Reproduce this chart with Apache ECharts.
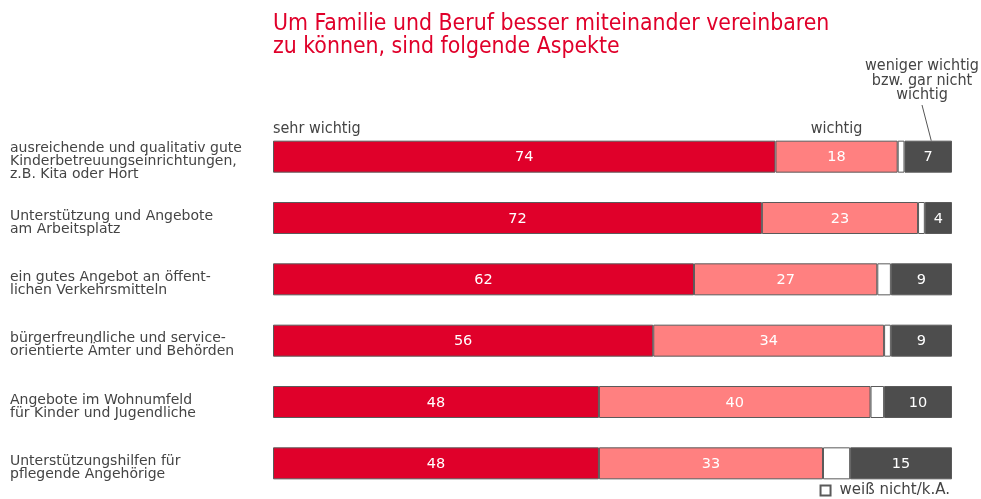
<!DOCTYPE html>
<html>
<head>
<meta charset="utf-8">
<script src="https://cdn.jsdelivr.net/npm/echarts@6/dist/echarts.min.js"></script>
<style>
  html, body { margin: 0; padding: 0; background: #fff; }
  #chart { width: 981px; height: 499px; }
</style>
</head>
<body>
<div id="chart"></div>
<script>
// Kategorien (von oben nach unten)
const categories = [
  'ausreichende und qualitativ gute\nKinderbetreuungseinrichtungen,\nz.B. Kita oder Hort',
  'Unterstützung und Angebote\nam Arbeitsplatz',
  'ein gutes Angebot an öffent-\nlichen Verkehrsmitteln',
  'bürgerfreundliche und service-\norientierte Ämter und Behörden',
  'Angebote im Wohnumfeld\nfür Kinder und Jugendliche',
  'Unterstützungshilfen für\npflegende Angehörige'
]
const sehrWichtig = [74, 72, 62, 56, 48, 48]
const wichtig = [18, 23, 27, 34, 40, 33]
const weissNicht = [1, 1, 2, 1, 2, 4]
const wenigerWichtig = [7, 4, 9, 9, 10, 15]

const RED = '#e0002a'
const PINK = '#ff8080'
const DARK = '#4d4d4d'
const BORDER = '#5a5a5a'
const NARROW = '"DejaVu Sans Condensed", "Roboto", sans-serif'

const myChart = echarts.init(document.getElementById('chart'))

const barLabel = {
  show: true,
  position: 'inside',
  color: '#fff',
  fontFamily: 'DejaVu Sans',
  fontSize: 14.5,
  offset: [0, 1]
}

const option = {
  animation: false,
  title: {
    text: 'Um Familie und Beruf besser miteinander vereinbaren\nzu können, sind folgende Aspekte',
    left: 273,
    top: 13,
    padding: 0,
    textStyle: {
      color: RED,
      fontFamily: NARROW,
      fontWeight: 'normal',
      fontSize: 22.8,
      lineHeight: 23
    }
  },
  legend: {
    data: ['weiß nicht/k.A.'],
    right: 26,
    top: 478,
    icon: 'rect',
    itemWidth: 10,
    itemHeight: 10,
    itemGap: 6,
    textStyle: { color: '#444', fontFamily: 'DejaVu Sans', fontSize: 15, padding: [0, 0, 0, 4] }
  },
  grid: { left: 273, right: 29, top: 126, bottom: 5, containLabel: false },
  xAxis: {
    type: 'value',
    min: 0,
    max: 100,
    show: false
  },
  yAxis: {
    type: 'category',
    data: categories,
    inverse: true,
    axisLine: { show: false },
    axisTick: { show: false },
    axisLabel: {
      align: 'left',
      margin: 263,
      color: '#444',
      fontFamily: 'DejaVu Sans',
      fontSize: 14,
      lineHeight: 13,
      // kleine Leerzeile oben schiebt den Textblock etwas nach unten
      formatter: (v) => '{s| }\n' + v,
      rich: { s: { fontSize: 4, lineHeight: 9 } }
    }
  },
  series: [
    {
      name: 'sehr wichtig', type: 'bar', stack: 'a', data: sehrWichtig, barWidth: 32,
      itemStyle: { color: RED, borderColor: BORDER, borderWidth: 1 },
      label: barLabel
    },
    {
      name: 'wichtig', type: 'bar', stack: 'a', data: wichtig, barWidth: 32,
      itemStyle: { color: PINK, borderColor: BORDER, borderWidth: 1 },
      label: barLabel
    },
    {
      name: 'weiß nicht/k.A.', type: 'bar', stack: 'a', data: weissNicht, barWidth: 32,
      itemStyle: { color: '#fff', borderColor: BORDER, borderWidth: 1 },
      label: { show: false }
    },
    {
      name: 'weniger wichtig', type: 'bar', stack: 'a', data: wenigerWichtig, barWidth: 32,
      itemStyle: { color: DARK, borderColor: BORDER, borderWidth: 1 },
      label: barLabel
    }
  ]
}
myChart.setOption(option)

// Beschriftungen über dem ersten Balken
const annoFont = { fill: '#444', fontFamily: NARROW, fontSize: 16 }
const p0 = myChart.convertToPixel({ gridIndex: 0 }, [0, 0])
const pW = myChart.convertToPixel({ gridIndex: 0 }, [sehrWichtig[0] + wichtig[0] / 2, 0])
const pG = myChart.convertToPixel({ gridIndex: 0 }, [100 - wenigerWichtig[0] / 2, 0])
const topY = p0[1] - 16

myChart.setOption({
  graphic: [
    { type: 'text', x: p0[0], y: topY - 20, style: Object.assign({ text: 'sehr wichtig' }, annoFont) },
    { type: 'text', x: pW[0], y: topY - 20, style: Object.assign({ text: 'wichtig', align: 'center' }, annoFont) },
    {
      type: 'text', x: 922, y: 59,
      style: Object.assign({ text: 'weniger wichtig\nbzw. gar nicht\nwichtig', align: 'center', lineHeight: 14.5 }, annoFont)
    },
    {
      type: 'line',
      shape: { x1: 922, y1: 105, x2: pG[0] + 3, y2: topY },
      style: { stroke: '#555', lineWidth: 1 }
    }
  ]
})

window.addEventListener('resize', () => myChart.resize())
</script>
</body>
</html>
